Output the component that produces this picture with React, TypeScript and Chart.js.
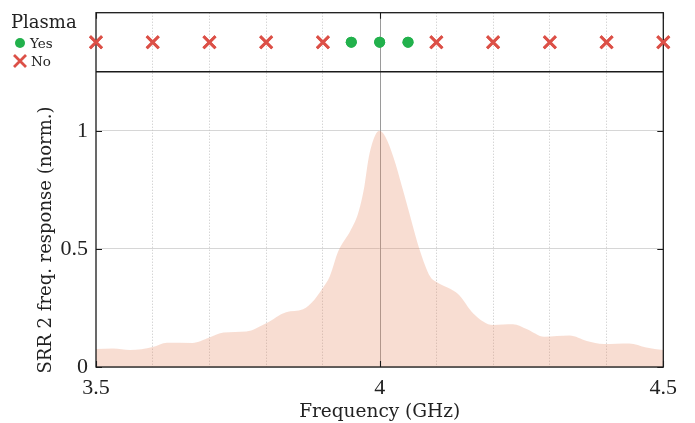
import React, { useEffect, useRef } from 'react';
import { Chart, registerables } from 'chart.js';

Chart.register(...registerables);

// ---- data ----
const freqGHz = [
  3.5, 3.53, 3.56, 3.6, 3.625, 3.67, 3.7, 3.725, 3.765, 3.8, 3.835, 3.865, 3.885, 3.9,
  3.912, 3.927, 3.948, 3.962, 3.972, 3.981, 3.992, 4.0, 4.01, 4.024, 4.041, 4.057, 4.07,
  4.089, 4.1, 4.125, 4.14, 4.165, 4.2, 4.235, 4.26, 4.29, 4.335, 4.365, 4.395, 4.44, 4.47, 4.5,
];
const response = [
  0.076, 0.078, 0.072, 0.085, 0.103, 0.102, 0.125, 0.146, 0.15, 0.185, 0.232, 0.244, 0.285, 0.335,
  0.383, 0.49, 0.575, 0.65, 0.75, 0.89, 0.98, 1.0, 0.975, 0.89, 0.75, 0.61, 0.5,
  0.383, 0.36, 0.33, 0.305, 0.227, 0.178, 0.181, 0.16, 0.128, 0.133, 0.11, 0.097, 0.1, 0.083, 0.072,
];
const plasmaYesFreq = [3.95, 4.0, 4.05];
const plasmaNoFreq = [3.5, 3.6, 3.7, 3.8, 3.9, 4.1, 4.2, 4.3, 4.4, 4.5];
const xGridTicks = [3.5, 3.6, 3.7, 3.8, 3.9, 4.0, 4.1, 4.2, 4.3, 4.4, 4.5];
const xMajorTicks = [3.5, 4, 4.5];
const xMajorLabels = ['3.5', '4', '4.5'];
const yTicks = [0, 0.5, 1];
const yTickLabels = ['0', '0.5', '1'];

const xTitle = 'Frequency (GHz)';
const yTitle = 'SRR 2 freq. response (norm.)';
const legendTitle = 'Plasma';
const legendYes = 'Yes';
const legendNo = 'No';

const GREEN = '#22B14C';
const RED = '#DC5047';
const FILL = 'rgba(232,142,105,0.3)';
const TITLE_FONT = "'DejaVu Serif', serif";
const TICK_FONT = "'Liberation Serif', serif";

const framePlugin = {
  id: 'frame',
  beforeDatasetsDraw(chart: any) {
    const { ctx, chartArea: a, scales } = chart;
    const xs = scales.x;
    ctx.save();
    ctx.strokeStyle = '#9a9a9a';
    ctx.lineWidth = 1;
    for (const v of xMajorTicks) {
      if (v > xs.min && v < xs.max) {
        const px = Math.round(xs.getPixelForValue(v)) + 0.5;
        ctx.beginPath();
        ctx.moveTo(px, a.top);
        ctx.lineTo(px, a.bottom);
        ctx.stroke();
      }
    }
    ctx.restore();
  },
  afterDatasetsDraw(chart: any) {
    const { ctx, chartArea: a, scales } = chart;
    const xs = scales.x;
    const ys = scales.y;
    ctx.save();
    ctx.strokeStyle = '#1a1a1a';
    ctx.lineWidth = 1.3;
    ctx.strokeRect(a.left, a.top, a.right - a.left, a.bottom - a.top);
    ctx.beginPath();
    ctx.moveTo(a.left, ys.top);
    ctx.lineTo(a.right, ys.top);
    ctx.stroke();
    // inward ticks
    ctx.lineWidth = 1.1;
    for (const v of yTicks) {
      const py = Math.round(ys.getPixelForValue(v)) + 0.5;
      ctx.beginPath();
      ctx.moveTo(a.left, py);
      ctx.lineTo(a.left + 6, py);
      ctx.moveTo(a.right, py);
      ctx.lineTo(a.right - 6, py);
      ctx.stroke();
    }
    for (const v of xMajorTicks) {
      const px = Math.round(xs.getPixelForValue(v)) + 0.5;
      ctx.beginPath();
      ctx.moveTo(px, a.bottom);
      ctx.lineTo(px, a.bottom - 6);
      ctx.moveTo(px, a.top);
      ctx.lineTo(px, a.top + 6);
      ctx.stroke();
    }
    ctx.restore();
    // markers of the top strip go over the frame
    for (const i of [1, 2]) {
      const meta = chart.getDatasetMeta(i);
      if (meta && meta.controller) meta.controller.draw();
    }
  },
  afterDraw(chart: any) {
    const { ctx, scales } = chart;
    const ys = scales.y;
    ctx.save();
    // y title
    ctx.fillStyle = '#222';
    ctx.font = `18px ${TITLE_FONT}`;
    ctx.textAlign = 'center';
    ctx.textBaseline = 'middle';
    ctx.translate(46, ys.top + (ys.bottom - ys.top) * 0.57);
    ctx.rotate(-Math.PI / 2);
    ctx.fillText(yTitle, 0, 0);
    ctx.restore();

    // legend
    ctx.save();
    ctx.fillStyle = '#222';
    ctx.textAlign = 'left';
    ctx.textBaseline = 'alphabetic';
    ctx.font = `18px ${TITLE_FONT}`;
    ctx.fillText(legendTitle, 11, 28);
    ctx.font = `13.5px ${TITLE_FONT}`;
    ctx.fillText(legendYes, 30, 48);
    ctx.fillText(legendNo, 31, 66);
    ctx.fillStyle = GREEN;
    ctx.beginPath();
    ctx.arc(20, 43, 5, 0, Math.PI * 2);
    ctx.fill();
    ctx.strokeStyle = RED;
    ctx.lineWidth = 2.8;
    ctx.beginPath();
    ctx.moveTo(14, 55);
    ctx.lineTo(26, 67);
    ctx.moveTo(26, 55);
    ctx.lineTo(14, 67);
    ctx.stroke();
    ctx.restore();
  },
};

const noPad = (s: any) => {
  s.paddingTop = 0;
  s.paddingBottom = 0;
};

export default function App() {
  const ref = useRef<HTMLCanvasElement | null>(null);

  useEffect(() => {
    if (!ref.current) return;
    const chart = new Chart(ref.current, {
      type: 'line',
      data: {
        datasets: [
          {
            type: 'line',
            label: 'response',
            data: freqGHz.map((f, i) => ({ x: f, y: response[i] })),
            xAxisID: 'x',
            yAxisID: 'y',
            fill: 'origin',
            backgroundColor: FILL,
            borderWidth: 0,
            borderColor: 'rgba(0,0,0,0)',
            pointRadius: 0,
            cubicInterpolationMode: 'monotone',
            order: 2,
          } as any,
          {
            type: 'scatter',
            label: legendYes,
            data: plasmaYesFreq.map((f) => ({ x: f, y: 0 })),
            xAxisID: 'x',
            yAxisID: 'y2',
            pointStyle: 'circle',
            pointRadius: 5.5,
            backgroundColor: GREEN,
            borderWidth: 0,
            clip: false,
            order: 1,
          } as any,
          {
            type: 'scatter',
            label: legendNo,
            data: plasmaNoFreq.map((f) => ({ x: f, y: 0 })),
            xAxisID: 'x',
            yAxisID: 'y2',
            pointStyle: 'crossRot',
            pointRadius: 8.5,
            borderColor: RED,
            borderWidth: 2.8,
            clip: false,
            order: 1,
          } as any,
        ],
      },
      options: {
        animation: false,
        responsive: true,
        maintainAspectRatio: false,
        events: [],
        layout: { padding: { top: 12.7, right: 31.7, bottom: 0, left: 0 } },
        plugins: { legend: { display: false }, tooltip: { enabled: false } },
        scales: {
          y: {
            type: 'linear',
            position: 'left',
            stack: 'panels',
            stackWeight: 5,
            min: 0,
            max: 1.25,
            afterBuildTicks: (s: any) => { s.ticks = yTicks.map((v) => ({ value: v })); },
            ticks: {
              padding: 8,
              color: '#222',
              font: { family: TICK_FONT, size: 22 },
              callback: (value: any) => {
                const i = yTicks.findIndex((m) => Math.abs(m - Number(value)) < 1e-9);
                return i >= 0 ? yTickLabels[i] : '';
              },
            },
            grid: { color: '#d6d6d6', lineWidth: 1, drawTicks: false },
            border: { display: false },
            afterFit: (s: any) => { s.width = 96; noPad(s); },
          },
          y2: {
            type: 'linear',
            position: 'left',
            stack: 'panels',
            stackWeight: 1,
            min: -1,
            max: 1,
            ticks: { display: false },
            grid: { display: false },
            border: { display: false },
            afterFit: (s: any) => { s.width = 96; noPad(s); },
          },
          x: {
            type: 'linear',
            position: 'bottom',
            min: 3.5,
            max: 4.5,
            afterBuildTicks: (s: any) => { s.ticks = xGridTicks.map((v) => ({ value: v })); },
            ticks: {
              autoSkip: false,
              maxRotation: 0,
              padding: 8,
              color: '#222',
              font: { family: TICK_FONT, size: 22 },
              callback: (value: any) => {
                const i = xMajorTicks.findIndex((m) => Math.abs(m - Number(value)) < 1e-9);
                return i >= 0 ? xMajorLabels[i] : '';
              },
            },
            grid: {
              drawTicks: false,
              color: (c: any) =>
                c.tick && xMajorTicks.some((m) => Math.abs(m - c.tick.value) < 1e-9) ? 'rgba(0,0,0,0)' : '#c4c4c4',
              lineWidth: 1,
            },
            border: { display: false, dash: [1, 2] },
            title: {
              display: true,
              text: xTitle,
              color: '#222',
              font: { family: TITLE_FONT, size: 18.5 },
              padding: { top: 0, bottom: 0 },
            },
            afterFit: (s: any) => { s.height = 56; },
          },
        },
      } as any,
      plugins: [framePlugin],
    });
    return () => chart.destroy();
  }, []);

  return (
    <div style={{ position: 'fixed', left: 0, top: 0, width: 695, height: 423, background: '#fff' }}>
      <canvas ref={ref} />
    </div>
  );
}
